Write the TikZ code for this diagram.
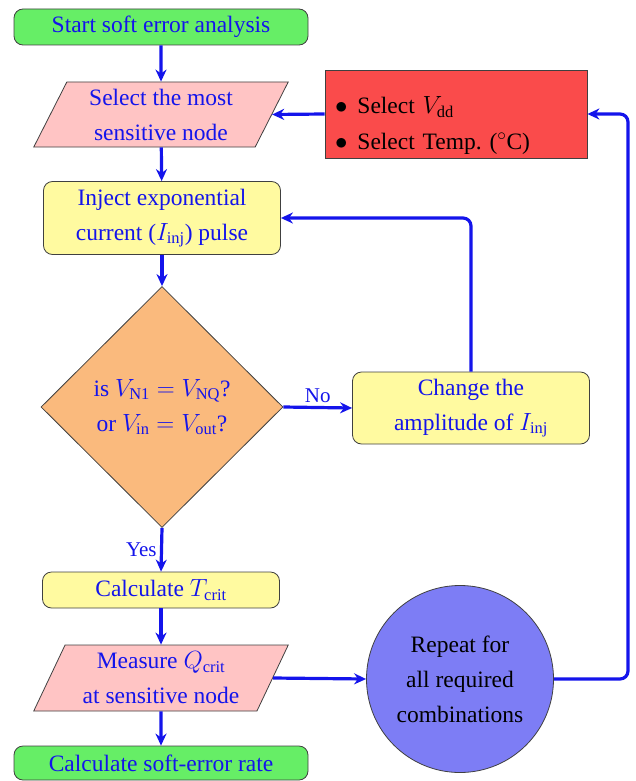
\documentclass[tikz,border=0pt]{standalone}
\usepackage{fontspec}
\setmainfont{Liberation Serif}
\usetikzlibrary{shapes.geometric,arrows.meta}
\definecolor{tblue}{RGB}{20,20,235}
\definecolor{fgreen}{RGB}{102,238,102}
\definecolor{fpink}{RGB}{255,196,196}
\definecolor{fyellow}{RGB}{255,250,160}
\definecolor{forange}{RGB}{250,186,125}
\definecolor{fred}{RGB}{250,75,75}
\definecolor{fcirc}{RGB}{125,125,245}
\tikzset{
  base/.style={draw=black!75, line width=0.8pt, text=tblue, align=center, inner sep=2pt,
    font=\rmfamily\fontsize{23.5}{35}\selectfont},
  term/.style={base, rounded corners=9pt, fill=fgreen},
  proc/.style={base, rounded corners=9pt, fill=fyellow},
  io/.style={base, trapezium, trapezium left angle=65, trapezium right angle=115,
    trapezium stretches=true, fill=fpink},
  dec/.style={base, diamond, fill=forange, inner sep=0pt},
  redbox/.style={base, fill=fred, text=black},
  redtext/.style={text=black, align=left, text width=242pt, inner sep=0pt,
    font=\rmfamily\fontsize{23.5}{36}\selectfont},
  rep/.style={base, circle, fill=fcirc, text=black},
  conn/.style={draw=tblue, line width=3.2pt, -{Stealth[length=12pt,width=11pt]}},
  lbl/.style={text=tblue, font=\rmfamily\fontsize{21}{25}\selectfont}
}
\begin{document}
\begin{tikzpicture}[x=1pt,y=-1pt]
\useasboundingbox (0,0) rectangle (636,781);
\node[term, minimum width=294pt, minimum height=36pt] (start) at (161,27) {Start soft error analysis};
\node[io, minimum width=255pt, minimum height=65pt] (sel) at (161,114.5) {Select the most\\sensitive node};
\node[redbox, minimum width=262pt, minimum height=88pt] (red) at (456,114) {};
\node[redtext] (redtxt) at (456,126)
  {$\bullet$\hspace{10pt}Select $V_{\mathrm{dd}}$\\$\bullet$\hspace{10pt}Select Temp.\ ($^\circ$C)};
\node[proc, minimum width=237pt, minimum height=73pt] (inj) at (162,218) {Inject exponential\\current ($I_{\mathrm{inj}}$) pulse};
\node[dec, minimum width=242pt, minimum height=241pt] (dec) at (162,407) {is $V_{\mathrm{N1}} = V_{\mathrm{NQ}}$?\\or $V_{\mathrm{in}} = V_{\mathrm{out}}$?};
\node[proc, minimum width=237pt, minimum height=72pt] (chg) at (471,408) {Change the\\amplitude of $I_{\mathrm{inj}}$};
\node[proc, minimum width=237pt, minimum height=36pt] (tc) at (161,590) {Calculate $T_{\mathrm{crit}}$};
\node[io, minimum width=255pt, minimum height=66pt] (meas) at (161,678) {Measure $Q_{\mathrm{crit}}$\\at sensitive node};
\node[rep, minimum size=187pt] (circ) at (460,679) {Repeat for\\all required\\combinations};
\node[term, minimum width=294pt, minimum height=34pt] (ser) at (161,763) {Calculate soft-error rate};
\coordinate (rc) at (628,679);

\draw[conn] (start) -- (sel);
\draw[conn] (sel) -- (inj);
\draw[conn] (red.west) -- (sel.east);
\draw[conn] (inj) -- (dec);
\draw[conn] (dec.east) -- node[lbl, above] {No} (chg.west);
\draw[conn] (dec.south) -- node[lbl, left, pos=0.5] {Yes} (tc.north);
\draw[conn, rounded corners=8pt] (chg.north) |- (inj.east);
\draw[conn] (tc) -- (meas);
\draw[conn] (meas) -- (ser);
\draw[conn] (meas.east) -- (circ.west);
\draw[conn, rounded corners=8pt] (circ.east) -- (rc) |- (red.east);
\end{tikzpicture}
\end{document}
